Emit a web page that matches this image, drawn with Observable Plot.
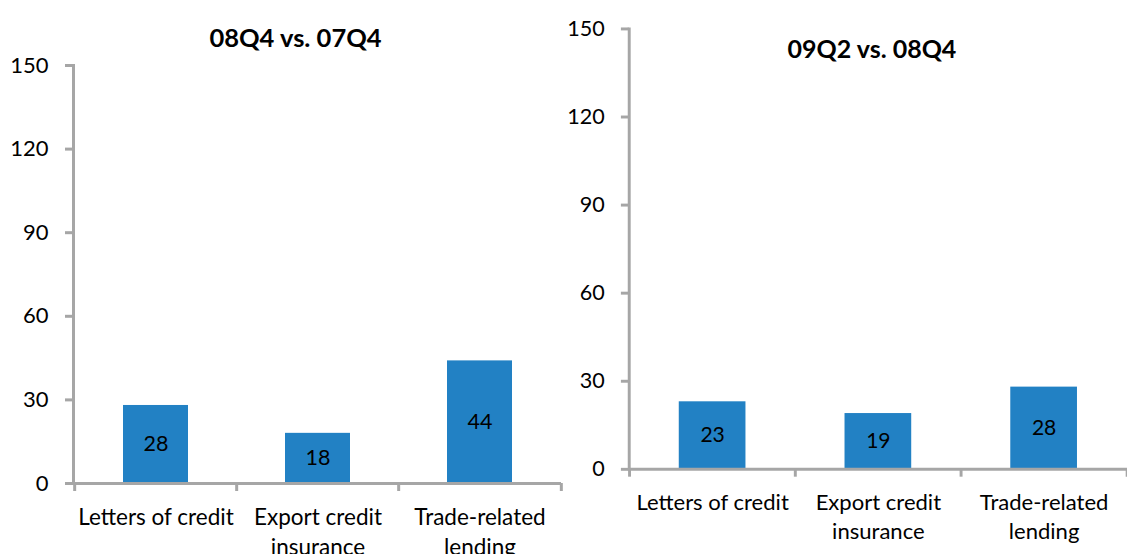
<!DOCTYPE html>
<html><head><meta charset="utf-8">
<script src="https://cdn.jsdelivr.net/npm/d3@7"></script>
<script src="https://cdn.jsdelivr.net/npm/@observablehq/plot@0.6"></script>
<style>
html,body{margin:0;padding:0;background:#fff;overflow:hidden}
#wrap{position:relative;width:1127px;height:554px;overflow:hidden}
#left,#right{position:absolute;top:0}
#left{left:0}#right{left:564px}
</style></head><body><div id="wrap"><div id="left"></div><div id="right"></div></div>
<script>
const categories = ["Letters of credit", "Export credit insurance", "Trade-related lending"];
const tickLabels = ["Letters of credit", "Export credit\ninsurance", "Trade-related\nlending"];
const values0807 = [28, 18, 44];
const values0908 = [23, 19, 28];
const yTicks = [0, 30, 60, 90, 120, 150];
const titles = ["08Q4 vs. 07Q4", "09Q2 vs. 08Q4"];

const gray = "#a6a6a6";
const barColor = "#2281c4";
const font = "Lato, 'Open Sans', sans-serif";

function panel({values, title, width, height, ml, mr, mt, mb, titleDx, titleDy}) {
  const data = categories.map((c, i) => ({category: c, value: values[i]}));
  const step = (width - ml - mr) / categories.length;
  return Plot.plot({
    width, height, marginLeft: ml, marginRight: mr, marginTop: mt, marginBottom: mb,
    style: {fontFamily: font, background: "transparent", overflow: "visible", color: "#000"},
    x: {domain: categories, paddingInner: 0.6, paddingOuter: 0.3, axis: null},
    y: {domain: [0, 150], axis: null},
    marks: [
      Plot.barY(data, {x: "category", y: "value", fill: barColor}),
      Plot.text(data, {x: "category", y: d => d.value / 2, text: d => String(d.value), fontSize: 21.5, fill: "#000"}),
      Plot.axisY({ticks: yTicks, label: null, tickSize: 8, tickPadding: 17, stroke: gray, strokeWidth: 3, fill: "#000", fontSize: 22}),
      Plot.axisX({label: null, tickSize: 8, tickFormat: () => "", stroke: gray, strokeWidth: 3, dx: -step / 2}),
      Plot.axisX({label: null, ticks: [categories[categories.length - 1]], tickSize: 8, tickFormat: () => "", stroke: gray, strokeWidth: 3, dx: step / 2}),
      Plot.axisX({label: null, tickSize: 0, tickPadding: 20, tickFormat: d => tickLabels[categories.indexOf(d)], fill: "#000", fontSize: 22.5, lineHeight: 1.33}),
      Plot.ruleY([0], {stroke: gray, strokeWidth: 3}),
      Plot.frame({anchor: "left", stroke: gray, strokeWidth: 3}),
      Plot.text([title], {frameAnchor: "top", dx: titleDx, dy: titleDy, text: d => d, fontSize: 25.5, fontWeight: "bold", fill: "#000"})
    ]
  });
}

document.getElementById("left").append(panel({
  values: values0807, title: titles[0], width: 564, height: 554,
  ml: 73, mr: 3, mt: 65, mb: 71, titleDx: -22, titleDy: -37
}));
document.getElementById("right").append(panel({
  values: values0908, title: titles[1], width: 574, height: 554,
  ml: 66, mr: 0, mt: 29, mb: 76, titleDx: -6.5, titleDy: 11.6
}));
</script></body></html>
